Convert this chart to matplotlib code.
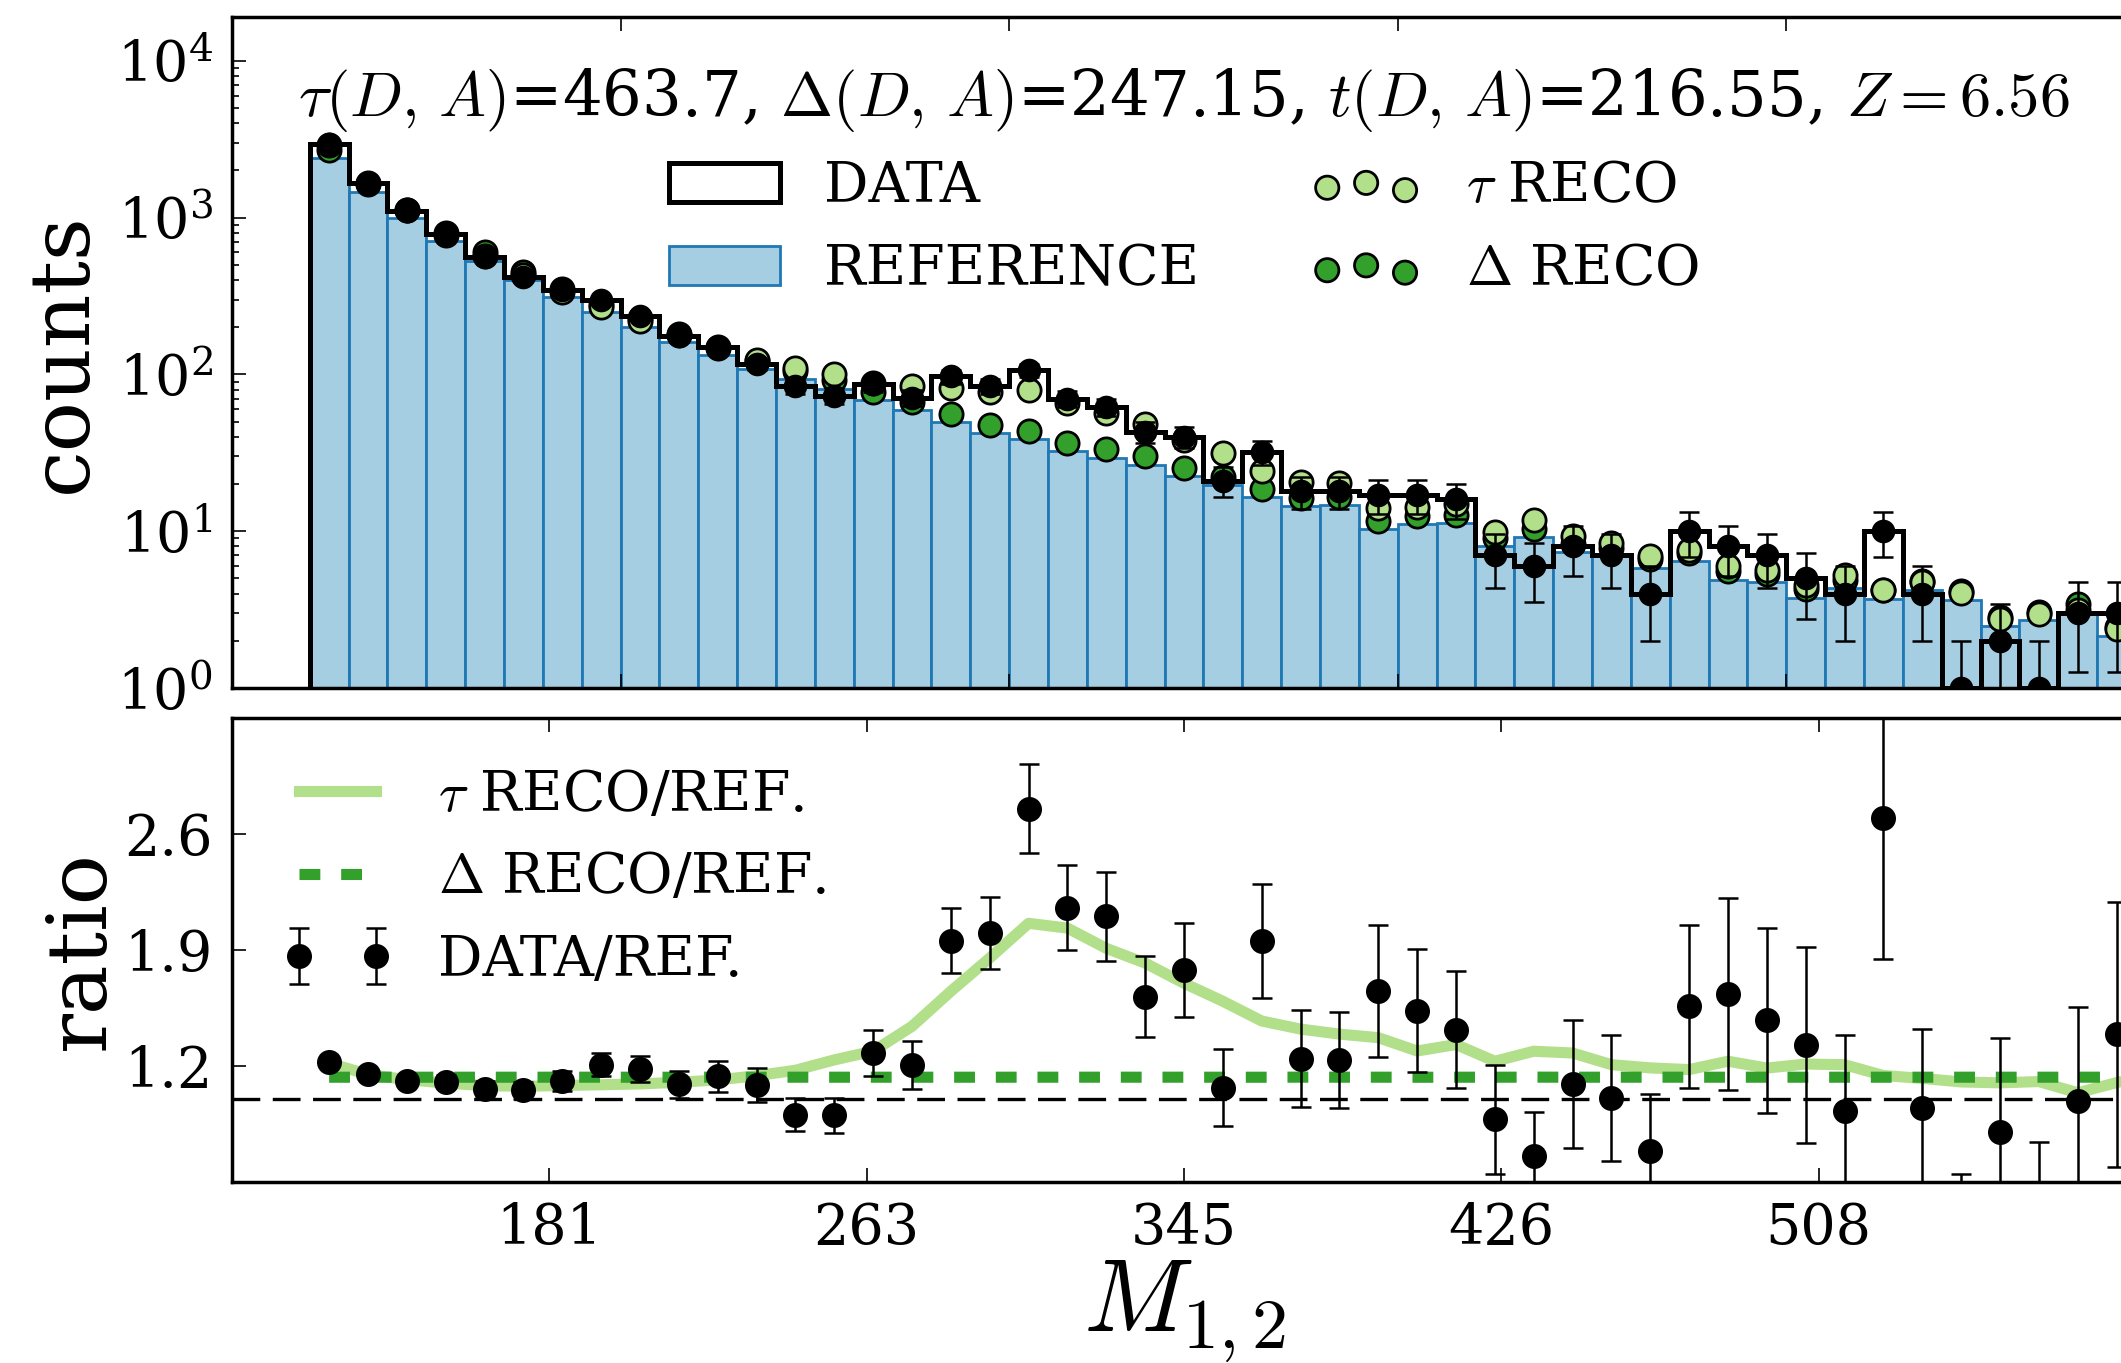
import numpy as np
import matplotlib
matplotlib.use('Agg')
import matplotlib.pyplot as plt
from matplotlib.ticker import FixedLocator, FixedFormatter

# ---- data (counts per 10-unit bin, first bin 120-130) ----
bin_edges = np.arange(120, 600, 10)
ref = [2400, 1450, 995, 710, 530, 400, 312, 249, 201, 161,
       132, 108, 93, 81, 68.2, 59, 49.6, 42, 38.5, 32.5,
       29.5, 26.6, 22.5, 19.7, 16.4, 14.5, 14.6, 10.3, 11.1, 11.3,
       8.0, 9.2, 7.35, 6.95, 5.85, 6.42, 4.9, 4.75, 3.77, 4.33,
       3.71, 4.23, 3.65, 2.5, 2.7, 3.05, 2.16]
data = [2930, 1665, 1104, 782, 562, 420, 345, 300, 237, 175,
        150, 117, 84, 73, 87, 71, 97, 84, 106, 70,
        62, 43, 40, 21, 32, 18, 18, 17, 17, 16,
        7, 6, 8, 7, 4, 10, 8, 7, 5, 4,
        10, 4, 1, 2, 1, 3, 3]
tau_reco = [2918, 1662, 1110, 777, 572, 430, 337, 270, 219, 177,
            147, 123, 109, 100, 87.8, 84.8, 81.8, 77.7, 79.3, 66.0,
            56.3, 48.4, 38.2, 31.3, 24.1, 20.6, 20.3, 14.1, 14.3, 15.0,
            9.81, 11.84, 9.38, 8.38, 6.94, 7.55, 6.01, 5.63, 4.56, 5.22,
            4.23, 4.75, 4.02, 2.74, 2.98, 3.16, 2.37]
delta_reco = [2712, 1638.5, 1124.4, 802.3, 598.9, 452.0, 352.6, 281.4, 227.1, 181.9,
              149.2, 122.0, 105.1, 91.53, 77.07, 66.67, 56.05, 47.46, 43.51, 36.73,
              33.34, 30.06, 25.43, 22.26, 18.53, 16.39, 16.50, 11.64, 12.54, 12.77,
              9.04, 10.40, 8.306, 7.854, 6.611, 7.255, 5.537, 5.368, 4.260, 4.893,
              4.192, 4.780, 4.125, 2.825, 3.051, 3.447, 2.441]

title_txt = (r'$\tau(D,\,A)$=463.7, $\Delta(D,\,A)$=247.15, '
             r'$t(D,\,A)$=216.55, $Z=6.56$')
ratio_ticks = [1.2, 1.9, 2.6]
x_ticks = np.linspace(100, 590, 7)[1:-1]
x_ticklabels = [str(int(v)) for v in x_ticks]

ref = np.array(ref)
data = np.array(data, dtype=float)
tau_reco = np.array(tau_reco)
delta_reco = np.array(delta_reco)
centers = 0.5 * (bin_edges[:-1] + bin_edges[1:])

# ---- style ----
plt.rcParams['font.family'] = ['DejaVu Serif']
plt.rcParams['mathtext.fontset'] = 'cm'
plt.rcParams['lines.scale_dashes'] = False
plt.rcParams['lines.solid_capstyle'] = 'projecting'
plt.rcParams['axes.linewidth'] = 1.25

W, H = 2121, 1363
fig = plt.figure(figsize=(W / 200, H / 200), dpi=200)
ax1 = fig.add_axes([232 / W, 1 - 688 / H, 1904 / W, 671 / H])
ax2 = fig.add_axes([232 / W, 1 - 1181.5 / H, 1904 / W, 463.5 / H])

# ---- top panel ----
ax1.set_yscale('log')
ax1.bar(centers, ref, width=10, color='#a6cee3', edgecolor='#1f78b4',
        linewidth=1.0, label='REFERENCE', zorder=1)
ax1.hist(centers, bins=bin_edges, weights=data, histtype='step', color='k',
         linewidth=1.8, label='DATA', zorder=2)
ax1.scatter(centers, delta_reco, s=70, c='#33a02c', edgecolors='k',
            linewidths=1.0, label=r'$\Delta$ RECO', zorder=3)
ax1.scatter(centers, tau_reco, s=70, c='#b2df8a', edgecolors='k',
            linewidths=1.0, label=r'$\tau$ RECO', zorder=4)
ax1.errorbar(centers, data, yerr=np.sqrt(data), fmt='o', color='k', ms=7.5,
             elinewidth=0.9, capsize=3.5, capthick=0.9, zorder=5)
ax1.set_xlim(100, 590)
ax1.set_ylim(1, 1.9e4)
ax1.set_xticklabels([])
ax1.set_ylabel('counts', fontsize=30)
ax1.yaxis.set_label_coords(-0.068, 0.5)
ax1.text(0.5, 0.876, title_txt, transform=ax1.transAxes, ha='center',
         va='center', fontsize=22.5)
h, l = ax1.get_legend_handles_labels()
order = [l.index('DATA'), l.index('REFERENCE'),
         l.index(r'$\tau$ RECO'), l.index(r'$\Delta$ RECO')]
ax1.legend([h[i] for i in order], [l[i] for i in order], ncol=2,
           loc='upper center', bbox_to_anchor=(0.5, 0.862), frameon=False,
           fontsize=20, scatterpoints=3)

# ---- ratio panel ----
ax2.plot(centers, tau_reco / ref, color='#b2df8a', linewidth=4,
         label=r'$\tau$ RECO/REF.', zorder=2)
ax2.plot(centers, delta_reco / ref, color='#33a02c', linewidth=4,
         dashes=(7.5, 7.5), label=r'$\Delta$ RECO/REF.', zorder=3)
ax2.errorbar(centers, data / ref, yerr=np.sqrt(data) / ref, fmt='o',
             color='k', ms=8, elinewidth=0.9, capsize=3.5, capthick=0.9,
             label='DATA/REF.', zorder=4)
ax2.axhline(1.0, color='k', linewidth=1.2, dashes=(10, 4.5), zorder=1)
ax2.set_xlim(100, 590)
ax2.set_ylim(0.5, 3.3)
ax2.xaxis.set_major_locator(FixedLocator(x_ticks))
ax2.xaxis.set_major_formatter(FixedFormatter(x_ticklabels))
ax2.yaxis.set_major_locator(FixedLocator(ratio_ticks))
ax2.yaxis.set_major_formatter(FixedFormatter([str(v) for v in ratio_ticks]))
ax2.set_ylabel('ratio', fontsize=30)
ax2.yaxis.set_label_coords(-0.0583, 0.5)
ax2.set_xlabel(r'$M_{1,2}$', fontsize=37)
ax2.xaxis.set_label_coords(0.5, -0.165)
ax2.legend(loc='upper left', frameon=False, fontsize=20, numpoints=2)

for ax in (ax1, ax2):
    ax.tick_params(which='both', direction='in', top=True, right=True,
                   labelsize=20, pad=7, width=0.6)
    ax.tick_params(which='major', length=5)
    ax.tick_params(which='minor', length=2.5)

fig.savefig('out.png', dpi=200)
